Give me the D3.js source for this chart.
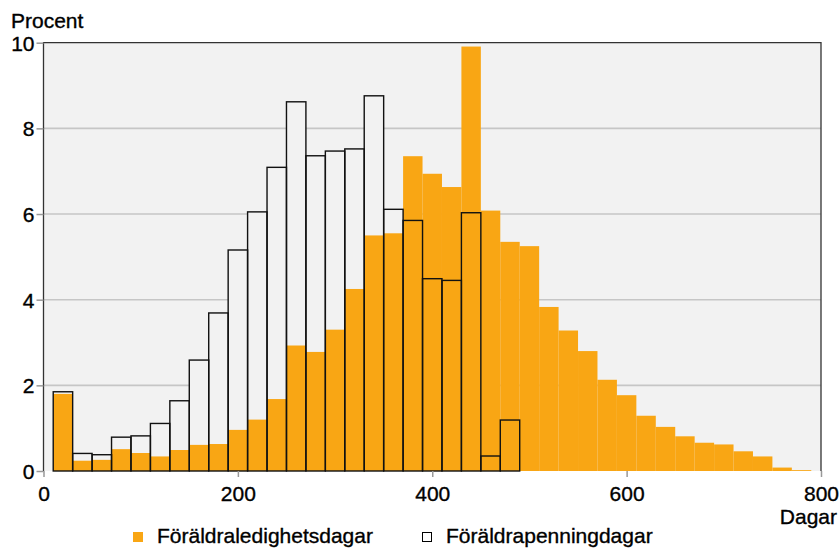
<!DOCTYPE html>
<html>
<head>
<meta charset="utf-8">
<script src="https://cdn.jsdelivr.net/npm/d3@7"></script>
<style>
  html, body { margin: 0; padding: 0; background: #fff; }
  svg { display: block; font-family: "Liberation Sans", Arial, sans-serif; }
  svg text { stroke: #000; stroke-width: 0.35px; paint-order: stroke; }
</style>
</head>
<body>
<svg id="chart" width="840" height="548"></svg>
<script>
// Bin centres (days), bins 20 days wide
const binCenters = [20,40,60,80,100,120,140,160,180,200,220,240,260,280,300,320,340,360,380,400,
                    420,440,460,480,500,520,540,560,580,600,620,640,660,680,700,720,740,760,780];
// Föräldraledighetsdagar (orange, %)
const ledighet = [1.80,0.24,0.26,0.51,0.42,0.34,0.49,0.61,0.63,0.96,1.20,1.68,2.93,2.78,3.30,4.25,5.50,5.55,7.35,6.94,
                  6.63,9.91,6.08,5.35,5.25,3.83,3.28,2.80,2.13,1.77,1.29,1.03,0.81,0.66,0.62,0.46,0.34,0.08,0.02];
// Föräldrapenningdagar (outlined, %) – bins 20..480
const penning = [1.85,0.41,0.38,0.79,0.82,1.11,1.64,2.59,3.69,5.16,6.05,7.09,8.62,7.36,7.47,7.52,8.76,6.11,5.85,4.49,
                 4.45,6.03,0.35,1.19];
const xTicks = [0,200,400,600,800];
const yTicks = [0,2,4,6,8,10];
const seriesNames = ["Föräldraledighetsdagar", "Föräldrapenningdagar"];
const binWidth = 20;

const orange = "#f9a614";
const fontSize = "21px";
const svg = d3.select("#chart");
const x = d3.scaleLinear().domain([0, 800]).range([43.5, 821]);
const y = d3.scaleLinear().domain([0, 10]).range([471, 42.7]);

// plot background
svg.append("rect").attr("x", x(0)).attr("y", y(10))
  .attr("width", x(800) - x(0)).attr("height", y(0) - y(10))
  .attr("fill", "#f2f2f2");

// gridlines
svg.append("g").selectAll("line").data(yTicks.filter(d => d > 0 && d < 10)).join("line")
  .attr("x1", x(0)).attr("x2", x(800))
  .attr("y1", d => y(d)).attr("y2", d => y(d))
  .attr("stroke", "#c6c6c6").attr("stroke-width", 1.6);

const pData = penning.map((v, i) => ({c: binCenters[i], v}));
const lData = ledighet.map((v, i) => ({c: binCenters[i], v}));

// outlined series fill (hides gridlines)
svg.append("g").selectAll("rect").data(pData).join("rect")
  .attr("x", d => x(d.c - binWidth / 2)).attr("width", d => x(d.c + binWidth / 2) - x(d.c - binWidth / 2))
  .attr("y", d => y(d.v)).attr("height", d => y(0) - y(d.v))
  .attr("fill", "#f2f2f2");

// orange series
svg.append("g").selectAll("rect").data(lData).join("rect")
  .attr("x", d => x(d.c - binWidth / 2)).attr("width", d => x(d.c + binWidth / 2) - x(d.c - binWidth / 2))
  .attr("y", d => y(d.v)).attr("height", d => y(0) - y(d.v))
  .attr("fill", orange);

// outlines
svg.append("g").selectAll("rect").data(pData).join("rect")
  .attr("x", d => x(d.c - binWidth / 2)).attr("width", d => x(d.c + binWidth / 2) - x(d.c - binWidth / 2))
  .attr("y", d => y(d.v)).attr("height", d => y(0) - y(d.v))
  .attr("fill", "none").attr("stroke", "#111").attr("stroke-width", 1.4);

// frame
svg.append("path")
  .attr("d", `M${x(0)},${y(0)}V${y(10)}H${x(800)}V${y(0)}`)
  .attr("fill", "none").attr("stroke", "#333").attr("stroke-width", 1.3);

// axes
const yAxis = svg.append("g").attr("transform", `translate(${x(0)},0)`)
  .call(d3.axisLeft(y).tickValues(yTicks).tickSize(7).tickPadding(2).tickFormat(d3.format("d")));
const xAxis = svg.append("g").attr("transform", `translate(0,${y(0)})`)
  .call(d3.axisBottom(x).tickValues(xTicks).tickSize(6).tickPadding(9).tickFormat(d3.format("d")));
[yAxis, xAxis].forEach(g => {
  g.select(".domain").remove();
  g.selectAll(".tick line").attr("stroke", "#999").attr("stroke-width", 1.5);
  g.selectAll(".tick text").attr("fill", "#000").style("font-size", fontSize)
    .style("font-family", "'Liberation Sans', Arial, sans-serif");
});
yAxis.selectAll(".tick text").attr("dy", "0.36em");

// axis titles
svg.append("text").attr("x", 11).attr("y", 28).text("Procent")
  .style("font-size", fontSize).attr("fill", "#000");
svg.append("text").attr("x", 837).attr("y", 524).attr("text-anchor", "end").text("Dagar")
  .style("font-size", fontSize).attr("fill", "#000");

// legend
const leg = svg.append("g");
leg.append("rect").attr("x", 133).attr("y", 532).attr("width", 10).attr("height", 10).attr("fill", orange);
leg.append("text").attr("x", 157).attr("y", 543).text(seriesNames[0]).style("font-size", fontSize).attr("fill", "#000");
leg.append("rect").attr("x", 422.5).attr("y", 532.5).attr("width", 9).attr("height", 9)
  .attr("fill", "#fff").attr("stroke", "#000").attr("stroke-width", 1);
leg.append("text").attr("x", 446).attr("y", 543).text(seriesNames[1]).style("font-size", fontSize).attr("fill", "#000");
</script>
</body>
</html>
